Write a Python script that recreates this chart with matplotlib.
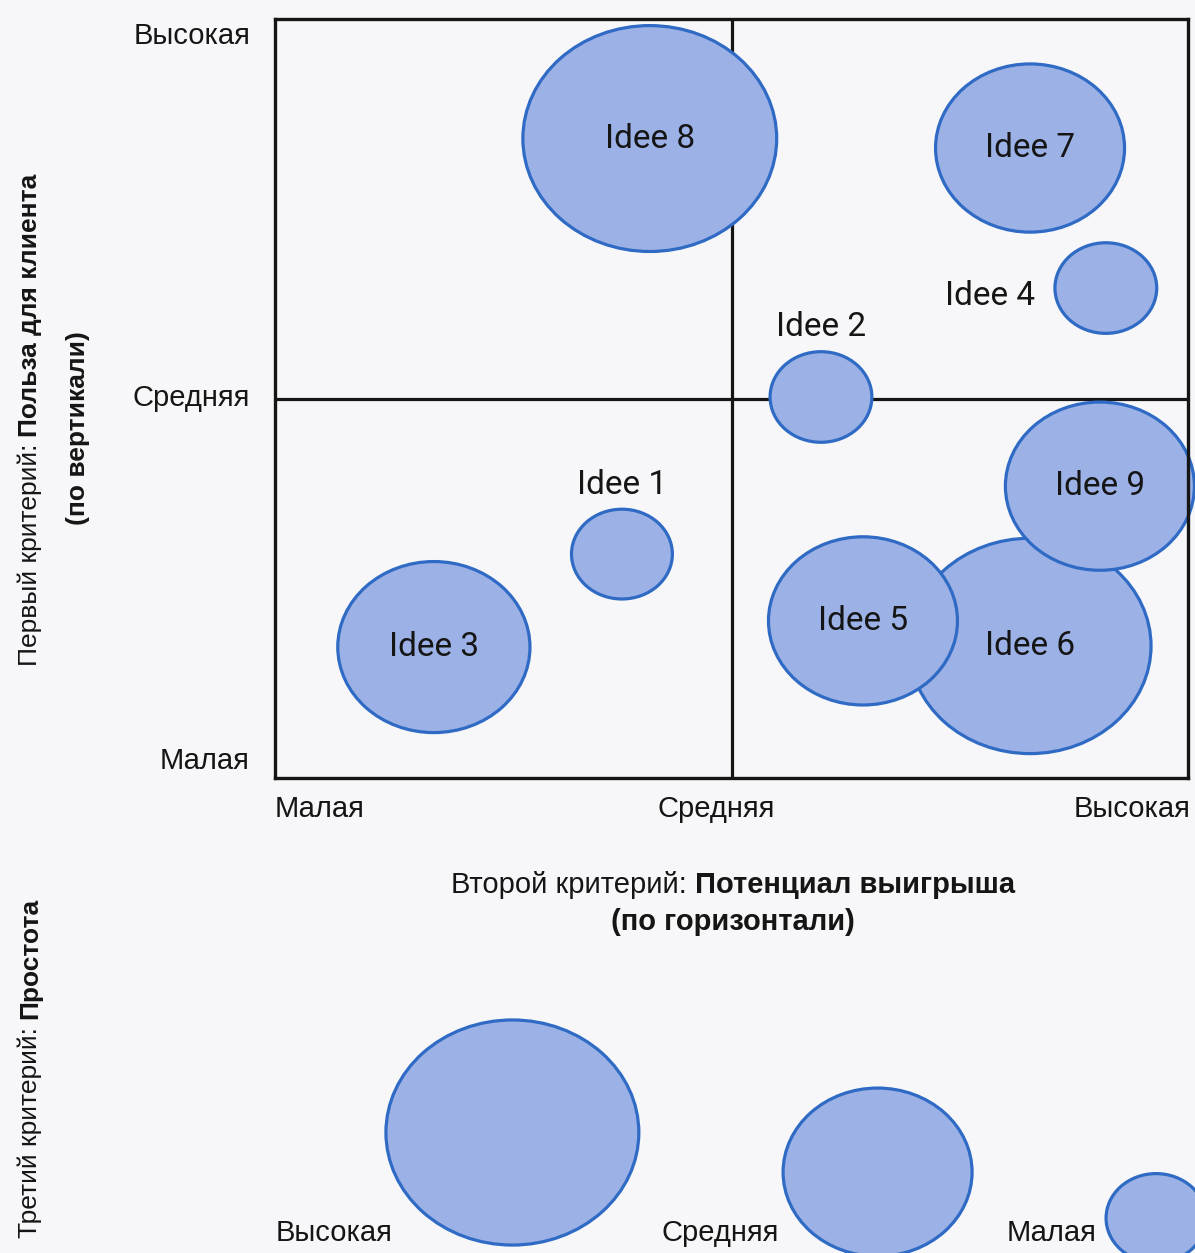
import numpy as np
import matplotlib
matplotlib.use("Agg")
import matplotlib.pyplot as plt
from matplotlib.patches import Ellipse
from matplotlib import font_manager as fm


def pick(names):
    for n in names:
        try:
            fm.findfont(n, fallback_to_default=False)
            return n
        except Exception:
            pass
    return "DejaVu Sans"

CYR = pick(["Liberation Sans", "Arial", "DejaVu Sans"])
NARROW = pick(["Liberation Sans Narrow", "Roboto", "DejaVu Sans"])

# --- data -------------------------------------------------------------
levels = ["Малая", "Средняя", "Высокая"]                 # 0, 1, 2
ideas = ["Idee 1", "Idee 2", "Idee 3", "Idee 4", "Idee 5",
         "Idee 6", "Idee 7", "Idee 8", "Idee 9"]
gain = [0.76, 1.196, 0.348, 1.82, 1.288, 1.654, 1.654, 0.821, 1.807]     # x
benefit = [0.59, 1.004, 0.345, 1.291, 0.414, 0.348, 1.66, 1.685, 0.769]  # y
simplicity = [0.221, 0.223, 0.421, 0.223, 0.414, 0.53, 0.414, 0.556, 0.414]  # bubble diameter
label_pos = ["top", "top", "center", "left", "center", "center", "center", "center", "center"]
draw_order = [0, 1, 2, 3, 5, 4, 6, 7, 8]

legend_levels = ["Высокая", "Средняя", "Малая"]
legend_sizes = [0.554, 0.414, 0.219]

# --- style ------------------------------------------------------------
W, H = 1195, 1253
BG = "#f7f7f9"
FILL = "#9cb1e6"
EDGE = "#2f6ac4"
INK = "#151515"
ASPECT = 0.89   # scan is slightly squashed vertically
FS = 21
FSV = 19

fig = plt.figure(figsize=(W / 100, H / 100), dpi=100, facecolor=BG)


def px_axes(x0, y0, x1, y1):
    return fig.add_axes([x0 / W, 1 - y1 / H, (x1 - x0) / W, (y1 - y0) / H])


BOX = (275, 19, 1188, 778)
ax = px_axes(*BOX)
ax.set_facecolor("none")
ax.set_xlim(0, 2)
ax.set_ylim(0, 2)
ax.set_xticks([])
ax.set_yticks([])
for s in ax.spines.values():
    s.set_linewidth(2.4)
    s.set_color(INK)
    s.set_zorder(5)
xppu = (BOX[2] - BOX[0]) / 2
yppu = (BOX[3] - BOX[1]) / 2
hscale = ASPECT * xppu / yppu

ax.axvline(1, color=INK, lw=2.3, zorder=1)
ax.axhline(1, color=INK, lw=2.3, zorder=1)

for i in draw_order:
    d = simplicity[i]
    e = Ellipse((gain[i], benefit[i]), d, d * hscale, facecolor=FILL,
                edgecolor=EDGE, lw=2.3, zorder=2, clip_on=False)
    ax.add_patch(e)
    p = label_pos[i]
    kw = dict(fontsize=24, family=NARROW, color=INK, zorder=6)
    if p == "center":
        ax.text(gain[i], benefit[i], ideas[i], ha="center", va="center", **kw)
    elif p == "top":
        ax.annotate(ideas[i], (gain[i], benefit[i] + d * hscale / 2),
                    xytext=(0, 6), textcoords="offset points",
                    ha="center", va="bottom", **kw)
    else:
        ax.annotate(ideas[i], (gain[i] - d / 2, benefit[i]),
                    xytext=(-14, -6), textcoords="offset points",
                    ha="right", va="center", **kw)

tick_kw = dict(fontsize=FS, family=CYR, color=INK, textcoords="offset points")
# y tick labels
yoff = [12, 0, -12]
for k, lab in enumerate(levels):
    ax.annotate(lab, (0, k), xycoords=("axes fraction", "data"),
                xytext=(-18, yoff[k]), ha="right", va="center", **tick_kw)
# x tick labels
xha = ["left", "center", "right"]
xoff = [0, -11, 2]
for k, lab in enumerate(levels):
    ax.annotate(lab, (k, 0), xycoords=("data", "axes fraction"),
                xytext=(xoff[k], -22), ha=xha[k], va="center", **tick_kw)

# x axis title
t1 = fig.text(0, 0, "Второй критерий: ", fontsize=FS, family=CYR, color=INK)
t2 = fig.text(0, 0, "Потенциал выигрыша", fontsize=FS, family=CYR, color=INK, weight="bold")
fig.canvas.draw()
r = fig.canvas.get_renderer()
w1 = t1.get_window_extent(r).width
w2 = t2.get_window_extent(r).width
cx, cy = 733 / W, 1 - 885 / H
t1.set_position((cx - (w1 + w2) / 2 / W, cy))
t2.set_position((cx - (w1 + w2) / 2 / W + w1 / W, cy))
t1.set_va("center")
t2.set_va("center")
fig.text(cx, 1 - 922 / H, "(по горизонтали)", fontsize=FS, family=CYR, color=INK,
         weight="bold", ha="center", va="center")

# y axis title (rotated)
def vtitle(x, ycen, parts):
    objs = [fig.text(0, 0, p, fontsize=FSV, family=CYR, color=INK, weight=wt,
                     rotation=90, ha="center", va="center") for p, wt in parts]
    fig.canvas.draw()
    hs = [o.get_window_extent(r).height for o in objs]
    y = ycen - sum(hs) / 2
    for o, h in zip(objs, hs):
        o.set_position((x / W, 1 - (y + h / 2) / H))
        y += h

vtitle(30, 420, [("Польза для клиента", "bold"), ("Первый критерий: ", "normal")])
vtitle(78, 428, [("(по вертикали)", "bold")])
vtitle(30, 1068, [("Простота", "bold"), ("Третий критерий: ", "normal")])

# --- simplicity legend ------------------------------------------------
LEG = (275, 1000, 1188, 1253)
lg = px_axes(*LEG)
lg.set_xlim(0, 2)
lg.set_ylim(0, (LEG[3] - LEG[1]) / yppu)
lg.axis("off")
leg_x = [0.520, 1.320, 1.930]
leg_y = [0.3175, 0.213, 0.092]
leg_gap = [-0.015, 0.01, 0.02]
for k, lab in enumerate(legend_levels):
    d = legend_sizes[k]
    lg.add_patch(Ellipse((leg_x[k], leg_y[k]), d, d * hscale, facecolor=FILL,
                         edgecolor=EDGE, lw=2.3, clip_on=False))
    lg.text(leg_x[k] - d / 2 - leg_gap[k], 0.053, lab, ha="right", va="center",
            fontsize=FS, family=CYR, color=INK)

fig.savefig("out.png", dpi=100, facecolor=BG)
